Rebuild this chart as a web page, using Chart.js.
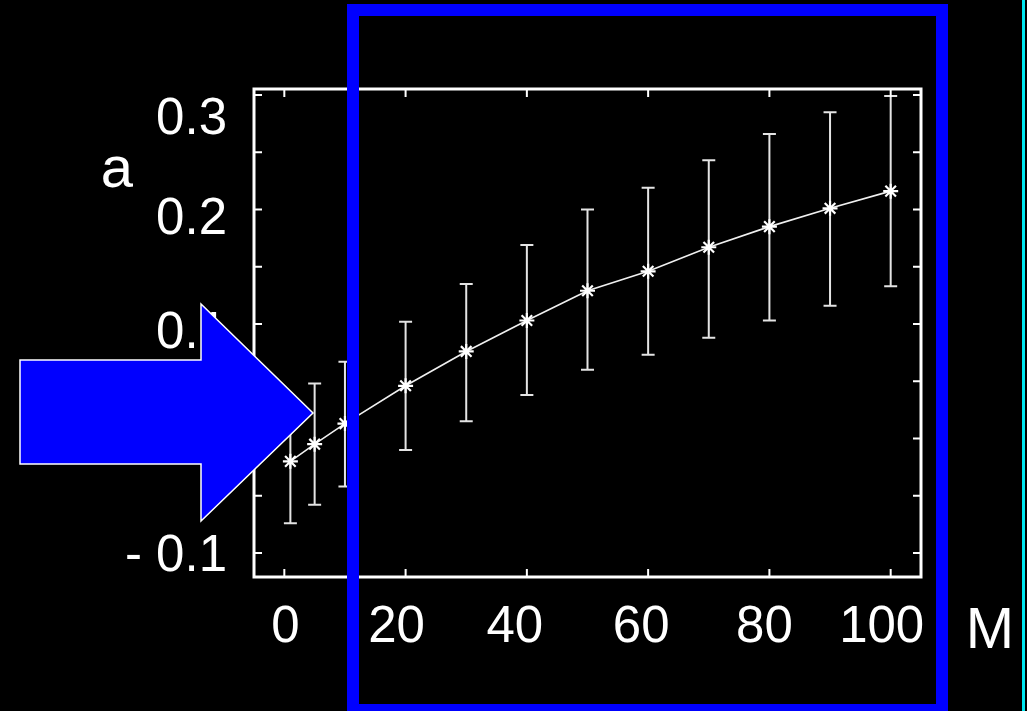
<!DOCTYPE html>
<html><head><meta charset="utf-8">
<script src="https://cdn.jsdelivr.net/npm/chart.js@4/dist/chart.umd.min.js"></script>
<style>html,body{margin:0;padding:0;background:#000;overflow:hidden}#wrap{width:1027px;height:711px;position:relative}</style>
</head><body><div id="wrap"><canvas id="c" width="1027" height="711"></canvas></div>
<script>
// ---- data ----
const mValues = [1, 5, 10, 20, 30, 40, 50, 60, 70, 80, 90, 100];
const aValues = [-0.020, -0.005, 0.013, 0.046, 0.076, 0.103, 0.129, 0.146, 0.167, 0.185, 0.201, 0.216];
const aUpper  = [0.032, 0.048, 0.067, 0.102, 0.135, 0.169, 0.200, 0.219, 0.243, 0.266, 0.285, 0.299];
const aLower  = [-0.074, -0.058, -0.042, -0.010, 0.015, 0.038, 0.060, 0.073, 0.088, 0.103, 0.116, 0.133];
const xTicks = [0, 20, 40, 60, 80, 100];
const xTickLabels = ['0', '20', '40', '60', '80', '100'];
const yTicks = [-0.1, -0.05, 0, 0.05, 0.1, 0.15, 0.2, 0.25, 0.3];
const yLabelValues = [0.3, 0.2, 0.1, 0, -0.1];
const yTickLabels = ['0.3', '0.2', '0.1', '0', '- 0.1'];
const xTitle = 'M';
const yTitle = 'a';

const FONT = '"Liberation Sans", Arial, sans-serif';
// hand-placed nudges of the slide's tick labels (pixels)
const X_LABEL_DX = [1, -9, -12, -7, -5, -9];
const Y_LABEL_DY = [25, 10.5, 10, 8, 4];

const bgPlugin = {
  id: 'bg',
  beforeDraw(chart) {
    const c = chart.ctx;
    c.save(); c.fillStyle = '#000'; c.fillRect(0, 0, chart.width, chart.height); c.restore();
  }
};

const framePlugin = {
  id: 'frame',
  beforeDatasetsDraw(chart) {
    const c = chart.ctx, a = chart.chartArea;
    const xs = chart.scales.x, ys = chart.scales.y;
    c.save();
    // error bars
    c.strokeStyle = '#e4e4e4';
    c.lineWidth = 2;
    mValues.forEach((m, i) => {
      const px = xs.getPixelForValue(m);
      const top = ys.getPixelForValue(aUpper[i]);
      const bot = ys.getPixelForValue(aLower[i]);
      c.beginPath();
      c.moveTo(px, top); c.lineTo(px, bot);
      c.moveTo(px - 6.5, top); c.lineTo(px + 6.5, top);
      c.moveTo(px - 6.5, bot); c.lineTo(px + 6.5, bot);
      c.stroke();
    });
    // inward tick marks
    c.strokeStyle = '#ffffff';
    c.lineWidth = 2;
    c.beginPath();
    yTicks.forEach(v => {
      const py = ys.getPixelForValue(v);
      c.moveTo(a.left, py); c.lineTo(a.left + 8, py);
      c.moveTo(a.right, py); c.lineTo(a.right - 8, py);
    });
    xTicks.forEach(v => {
      const px = xs.getPixelForValue(v);
      c.moveTo(px, a.bottom); c.lineTo(px, a.bottom - 8);
      c.moveTo(px, a.top); c.lineTo(px, a.top + 8);
    });
    c.stroke();
    // box
    c.lineWidth = 3;
    c.strokeRect(a.left, a.top, a.right - a.left, a.bottom - a.top);
    // tick labels
    c.fillStyle = '#ffffff';
    c.font = '51px ' + FONT;
    c.textBaseline = 'middle';
    c.textAlign = 'right';
    yLabelValues.forEach((v, i) => {
      c.fillText(yTickLabels[i], a.left - 27, ys.getPixelForValue(v) + Y_LABEL_DY[i]);
    });
    c.textAlign = 'center';
    xTicks.forEach((v, i) => {
      c.fillText(xTickLabels[i], xs.getPixelForValue(v) + X_LABEL_DX[i], a.bottom + 51);
    });
    c.restore();
  }
};

const overlayPlugin = {
  id: 'overlay',
  afterDraw(chart) {
    const c = chart.ctx;
    c.save();
    // axis titles
    c.fillStyle = '#ffffff';
    c.font = '58px ' + FONT;
    c.textAlign = 'center';
    c.textBaseline = 'alphabetic';
    c.fillText(yTitle, 117, 187);
    c.fillText(xTitle, 990, 648);
    // blue frame
    c.strokeStyle = '#0000ff';
    c.lineWidth = 12;
    c.strokeRect(353, 10, 942 - 353, 710 - 10);
    // cyan edge line
    c.fillStyle = 'rgb(0,230,240)';
    c.fillRect(1022, 0, 3, 711);
    // blue arrow
    c.beginPath();
    c.moveTo(20, 360); c.lineTo(201, 360); c.lineTo(201, 304);
    c.lineTo(313, 413); c.lineTo(201, 521); c.lineTo(201, 464);
    c.lineTo(20, 464); c.closePath();
    c.fillStyle = '#0000ff';
    c.fill();
    c.strokeStyle = '#ffffff';
    c.lineWidth = 1.5;
    c.stroke();
    c.restore();
  }
};

new Chart(document.getElementById('c'), {
  type: 'line',
  data: {
    datasets: [{
      data: mValues.map((m, i) => ({x: m, y: aValues[i]})),
      borderColor: '#f0f0f0',
      borderWidth: 1.6,
      pointStyle: 'star',
      pointRadius: 7.5,
      pointBorderWidth: 2.2,
      pointBorderColor: '#ffffff',
      pointBackgroundColor: '#ffffff',
      tension: 0,
      fill: false
    }]
  },
  options: {
    responsive: false,
    devicePixelRatio: 1,
    animation: false,
    events: [],
    layout: {padding: {left: 0, top: 89, right: 106, bottom: 0}},
    plugins: {legend: {display: false}, tooltip: {enabled: false}, title: {display: false}},
    scales: {
      x: {
        type: 'linear', min: -5, max: 105,
        afterBuildTicks: s => { s.ticks = xTicks.map(v => ({value: v})); },
        afterFit: s => { s.height = 134; },
        grid: {display: false, drawTicks: false},
        border: {display: false},
        ticks: {display: false}
      },
      y: {
        type: 'linear', min: -0.121, max: 0.3052,
        afterBuildTicks: s => { s.ticks = yTicks.map(v => ({value: v})); },
        afterFit: s => { s.width = 254; },
        grid: {display: false, drawTicks: false},
        border: {display: false},
        ticks: {display: false}
      }
    }
  },
  plugins: [bgPlugin, framePlugin, overlayPlugin]
});
</script>
</body></html>
